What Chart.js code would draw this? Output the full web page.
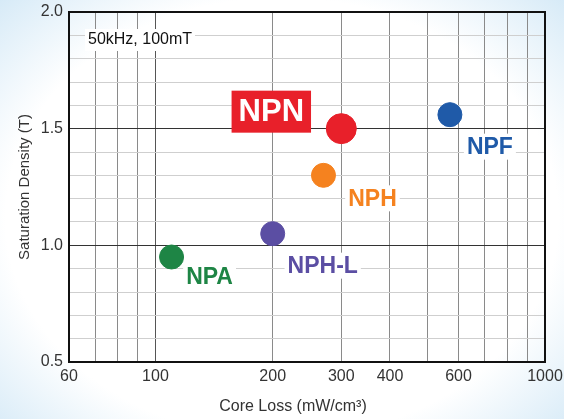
<!DOCTYPE html>
<html>
<head>
<meta charset="utf-8">
<script src="https://cdn.jsdelivr.net/npm/chart.js@4"></script>
<style>
  html, body { margin: 0; padding: 0; }
  body {
    width: 564px; height: 419px; overflow: hidden;
    background: radial-gradient(ellipse 70% 75% at 50% 52%, #ffffff 70%, #d6eaf7 100%);
  }
  #wrap { position: relative; width: 564px; height: 419px; }
</style>
</head>
<body>
<div id="wrap"><canvas id="chart" width="564" height="419"></canvas></div>
<script>
// materials
const materials = ['NPN', 'NPF', 'NPH', 'NPH-L', 'NPA'];
const coreLoss = [300, 570, 270, 200, 110];        // mW/cm3
const saturation = [1.5, 1.56, 1.3, 1.05, 0.95];   // T
const colors = ['#e8202a', '#1f5aa8', '#f5821f', '#5b4ea3', '#1e8545'];
const radii = [15, 12, 12, 12, 12];

const xTicks = [60, 70, 80, 90, 100, 200, 300, 400, 500, 600, 700, 800, 900, 1000];
const xLabels = [60, 100, 200, 300, 400, 600, 1000];
const yLabels = [0.5, 1.0, 1.5, 2.0];
const xTitle = 'Core Loss (mW/cm³)';

const fontFam = '"Liberation Sans", Arial, sans-serif';

// label placement relative to each point (pixels)
const labelOffsets = [[-70, -17], [40, 32], [49, 23], [50, 32], [38, 20]];

const labelPlugin = {
  id: 'pointLabels',
  beforeDatasetsDraw(chart) {
    const ctx = chart.ctx;
    const a = chart.chartArea;
    const xs = chart.scales.x, ys = chart.scales.y;
    ctx.save();
    // condition note
    ctx.font = '16px ' + fontFam;
    ctx.textBaseline = 'middle';
    ctx.textAlign = 'left';
    const note = '50kHz, 100mT';
    const w = ctx.measureText(note).width;
    ctx.fillStyle = '#fff';
    ctx.fillRect(a.left + 16, a.top + 17, w + 6, 22);
    ctx.fillStyle = '#111';
    ctx.fillText(note, a.left + 19, a.top + 28);

    materials.forEach((m, i) => {
      const px = xs.getPixelForValue(coreLoss[i]) + labelOffsets[i][0];
      const py = ys.getPixelForValue(saturation[i]) + labelOffsets[i][1];
      ctx.textAlign = 'center';
      ctx.textBaseline = 'middle';
      if (i === 0) {
        ctx.font = 'bold 31px ' + fontFam;
        const tw = ctx.measureText(m).width;
        ctx.fillStyle = colors[i];
        ctx.fillRect(px - tw / 2 - 7, py - 21, tw + 14, 42);
        ctx.fillStyle = '#fff';
        ctx.fillText(m, px, py + 1);
      } else {
        ctx.font = 'bold 23px ' + fontFam;
        const tw = ctx.measureText(m).width;
        ctx.fillStyle = '#fff';
        ctx.fillRect(px - tw / 2 - 3, py - 13, tw + 6, 26);
        ctx.fillStyle = colors[i];
        ctx.fillText(m, px, py + 1);
      }
    });
    // plot frame
    ctx.strokeStyle = '#111';
    ctx.lineWidth = 2;
    ctx.strokeRect(a.left, a.top, a.right - a.left, a.bottom - a.top);

    // x axis title, sits a little left of the plot centre
    ctx.font = '16px ' + fontFam;
    ctx.fillStyle = '#333';
    ctx.textAlign = 'center';
    ctx.textBaseline = 'middle';
    ctx.fillText(xTitle, (a.left + a.right) / 2 - 14, a.bottom + 45);
    ctx.restore();
  }
};

new Chart(document.getElementById('chart'), {
  type: 'scatter',
  data: {
    datasets: [{
      data: coreLoss.map((x, i) => ({ x: x, y: saturation[i] })),
      backgroundColor: colors,
      borderColor: colors,
      pointRadius: radii,
      pointHoverRadius: radii
    }]
  },
  options: {
    responsive: false,
    animation: false,
    layout: { autoPadding: false, padding: { top: 12, right: 19, left: 12, bottom: 0 } },
    plugins: { legend: { display: false }, tooltip: { enabled: false } },
    scales: {
      x: {
        type: 'logarithmic',
        min: 60,
        max: 1000,
        afterBuildTicks: (axis) => { axis.ticks = xTicks.map(v => ({ value: v })); },
        afterFit: (axis) => {
          axis.height = 57;
          axis.paddingLeft = 0;
          axis.paddingRight = 0;
        },
        grid: {
          color: (c) => c.tick && c.tick.value === 100 ? '#555' : '#8a8a8a',
          lineWidth: 1,
          drawTicks: false
        },
        border: { display: false },
        ticks: {
          autoSkip: false,
          maxRotation: 0,
          padding: 5,
          color: '#333',
          font: { family: fontFam, size: 16 },
          callback: (v) => xLabels.includes(v) ? String(v) : ''
        },
        title: { display: false }
      },
      y: {
        min: 0.5,
        max: 2.0,
        afterFit: (axis) => {
          axis.width = 57;
          axis.paddingTop = 0;
          axis.paddingBottom = 0;
        },
        ticks: {
          stepSize: 0.1,
          padding: 6,
          color: '#333',
          font: { family: fontFam, size: 16 },
          callback: (v) => {
            const r = Math.round(v * 10) / 10;
            return yLabels.some(l => Math.abs(l - r) < 1e-6) ? r.toFixed(1) : '';
          }
        },
        grid: {
          color: (c) => {
            const v = Math.round(c.tick.value * 10) / 10;
            return yLabels.some(l => Math.abs(l - v) < 1e-6) ? '#333' : '#cfcfcf';
          },
          lineWidth: 1,
          drawTicks: false
        },
        border: { display: false },
        title: {
          display: true,
          text: 'Saturation Density (T)',
          color: '#333',
          font: { family: fontFam, size: 15 },
          padding: { bottom: 2 }
        }
      }
    }
  },
  plugins: [labelPlugin]
});
</script>
</body>
</html>
